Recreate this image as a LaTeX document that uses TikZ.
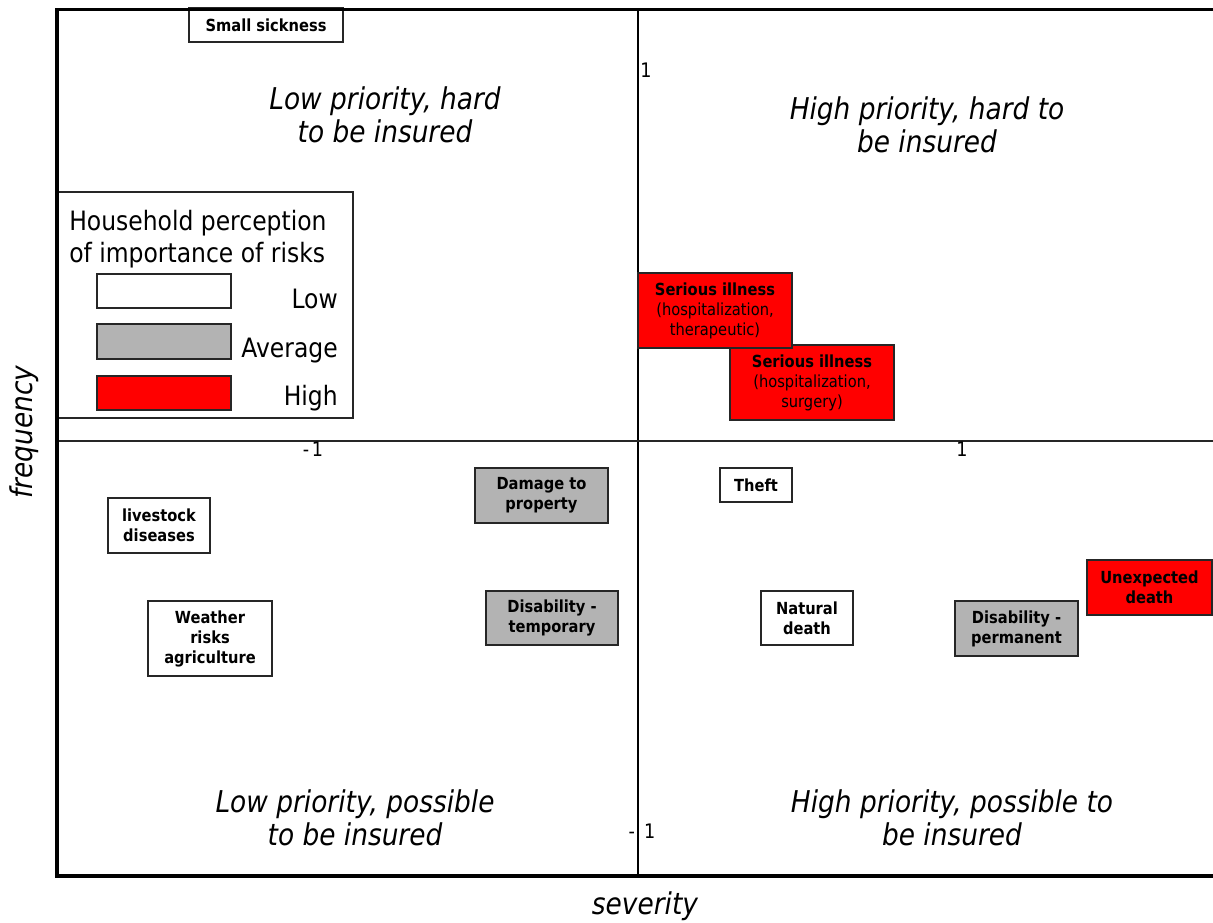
\documentclass[tikz,border=0pt]{standalone}
\usepackage{fontspec}
\setmainfont{DejaVu Sans}[FakeStretch=0.88]
\usepackage{tikz}
\definecolor{riskred}{RGB}{255,0,0}
\definecolor{riskgray}{RGB}{179,179,179}

\begin{document}
\begin{tikzpicture}[x=0.75pt,y=-0.75pt,
    riskbox/.style={draw=black!85, line width=1pt, inner sep=0pt, align=center,
        font=\fontsize{12.5}{15}\selectfont\bfseries},
    lowrisk/.style={riskbox, fill=white},
    avgrisk/.style={riskbox, fill=riskgray},
    highrisk/.style={riskbox, fill=riskred},
    boxdim/.style 2 args={minimum width=#1*0.75pt, minimum height=#2*0.75pt},
    quadlabel/.style={align=center, inner sep=0pt, font=\fontsize{22.5}{25}\selectfont\itshape},
    axislabel/.style={inner sep=0pt, font=\fontsize{22.5}{25}\selectfont\itshape},
    keylabel/.style={inner sep=0pt, font=\fontsize{20}{24}\selectfont},
    ticklabel/.style={inner sep=0pt, font=\fontsize{15}{17}\selectfont},
    ]
    \useasboundingbox (0,0) rectangle (1213,922);
    % axes
    \draw[line width=1.5pt] (638,9) -- (638,876);
    \draw[line width=1.5pt, black!85] (57,441) -- (1213,441);
    \node[ticklabel] (xminus) at (313,449) {-\hspace{2pt}1};
    \node[ticklabel] (xplus) at (962,449) {1};
    \node[ticklabel] (yplus) at (646,70) {1};
    \node[ticklabel] (yminus) at (642,831) {-\hspace{7pt}1};
    % quadrants
    \node[quadlabel] (lowhard) at (385,115) {Low priority, hard\\to be insured};
    \node[quadlabel] (highhard) at (927,125) {High priority, hard to\\be insured};
    \node[quadlabel] (lowpossible) at (355,818) {Low priority, possible\\to be insured};
    \node[quadlabel] (highpossible) at (952,818) {High priority, possible to\\be insured};
    % legend
    \node[draw=black!85, line width=1pt, fill=white, inner sep=0pt, boxdim={296}{226}] (legend) at (205,305) {};
    \node[keylabel, anchor=base west] (titleone) at (69,230) {Household perception};
    \node[keylabel, anchor=base west] (titletwo) at (69,262) {of importance of risks};
    \node[lowrisk, boxdim={134}{34}] (lowkey) at (164,291) {};
    \node[avgrisk, boxdim={134}{35}] (avgkey) at (164,341.5) {};
    \node[highrisk, boxdim={134}{34}] (highkey) at (164,393) {};
    \node[keylabel, anchor=base east] (lowtext) at (338,308) {Low};
    \node[keylabel, anchor=base east] (avgtext) at (338,357) {Average};
    \node[keylabel, anchor=base east] (hightext) at (338,405) {High};
    % risks
    \node[lowrisk, boxdim={154}{34}] (smallsick) at (266,25) {Small sickness};
    \node[highrisk, boxdim={164}{75}] (illsurgery) at (812,382.5)
        {Serious illness\\\mdseries(hospitalization,\\\mdseries surgery)};
    \node[highrisk, boxdim={154}{75}] (illthera) at (715,310.5)
        {Serious illness\\\mdseries(hospitalization,\\\mdseries therapeutic)};
    \node[avgrisk, boxdim={133}{55}] (damage) at (541.5,495.5) {Damage to\\property};
    \node[avgrisk, boxdim={132}{54}] (disabtemp) at (552,618) {Disability -\\temporary};
    \node[lowrisk, boxdim={72}{34}] (theft) at (756,485) {Theft};
    \node[lowrisk, boxdim={92}{54}] (natdeath) at (807,618) {Natural\\death};
    \node[avgrisk, boxdim={123}{55}] (disabperm) at (1016.5,628.5) {Disability -\\permanent};
    \node[highrisk, boxdim={125}{55}] (unexpdeath) at (1149.5,587.5) {Unexpected\\death};
    \node[lowrisk, boxdim={102}{55}] (livestock) at (159,525.5) {livestock\\diseases};
    \node[lowrisk, boxdim={124}{75}] (weather) at (210,638.5) {Weather\\risks\\agriculture};
    % frame
    \draw[line width=2.25pt] (55,9) -- (1213,9);
    \draw[line width=3pt] (57,8) -- (57,878);
    \draw[line width=3.5pt] (55,876) -- (1213,876);
    \node[axislabel] (sevlabel) at (645,906) {severity};
    \node[axislabel, rotate=90] (freqlabel) at (24,432) {frequency};
\end{tikzpicture}
\end{document}
